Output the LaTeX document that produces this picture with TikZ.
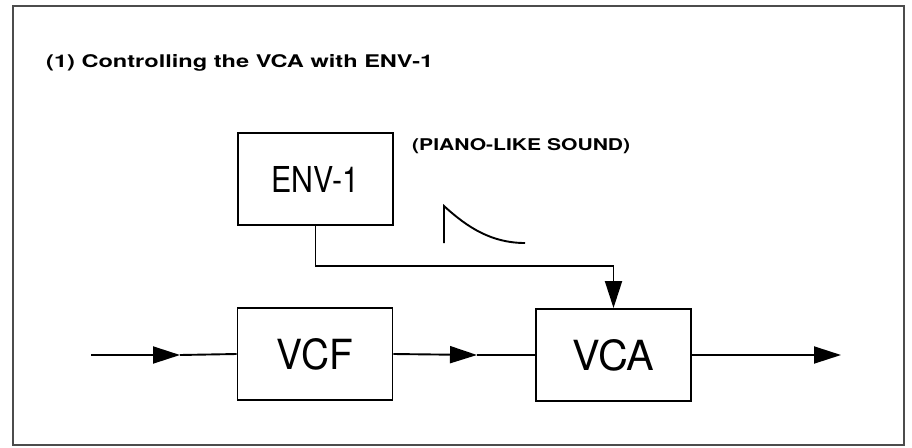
\documentclass[tikz,border=0pt]{standalone}
\usepackage{graphicx}
\usepackage{fontspec}
\setmainfont{TeX Gyre Heros}
\usetikzlibrary{arrows.meta}
\begin{document}
\begin{tikzpicture}[x=1pt,y=-1pt,
  blk/.style={draw, line width=1.9pt, minimum width=155pt, minimum height=92pt, inner sep=0pt},
  sig/.style={line width=1.9pt},
  tip/.style={-{Triangle[length=27pt,width=17pt]}, line width=1.9pt},
  frame/.style={draw=black!70, line width=1.4pt}]
\useasboundingbox (0,0) rectangle (912,447);
\draw[frame] (13,6) rectangle (904,445);
\node[anchor=base west, inner sep=0pt] (title) at (46,67)
  {\resizebox{387pt}{13pt}{\bfseries (1) Controlling the VCA with ENV-1}};
\node[blk] (env) at (315.5,179) {\resizebox{88pt}{26pt}{ENV-1}};
\node[blk] (vcf) at (315,354) {\resizebox{76pt}{31pt}{VCF}};
\node[blk] (vca) at (613.5,355) {\resizebox{82pt}{31pt}{VCA}};
\node[anchor=base west, inner sep=0pt] (piano) at (412,150)
  {\resizebox{218pt}{12pt}{\bfseries (PIANO-LIKE SOUND)}};
% decay curve
\draw[line width=1.9pt] (444,243) -- (444,206) .. controls (468,228) and (492,243) .. (525,243);
% envelope connector
\draw[tip] (env.south) -- ++(0,40) -| (vca.north);
% signal path
\coordinate (in) at (91,355);
\coordinate (m1) at (180,355);
\coordinate (m2) at (477,355);
\coordinate (out) at (841,355);
\draw[tip] (in) -- (m1);
\draw[sig] (m1) -- (vcf.west);
\draw[tip] (vcf.east) -- (m2);
\draw[sig] (m2) -- (vca.west);
\draw[tip] (vca.east) -- (out);
\end{tikzpicture}
\end{document}
